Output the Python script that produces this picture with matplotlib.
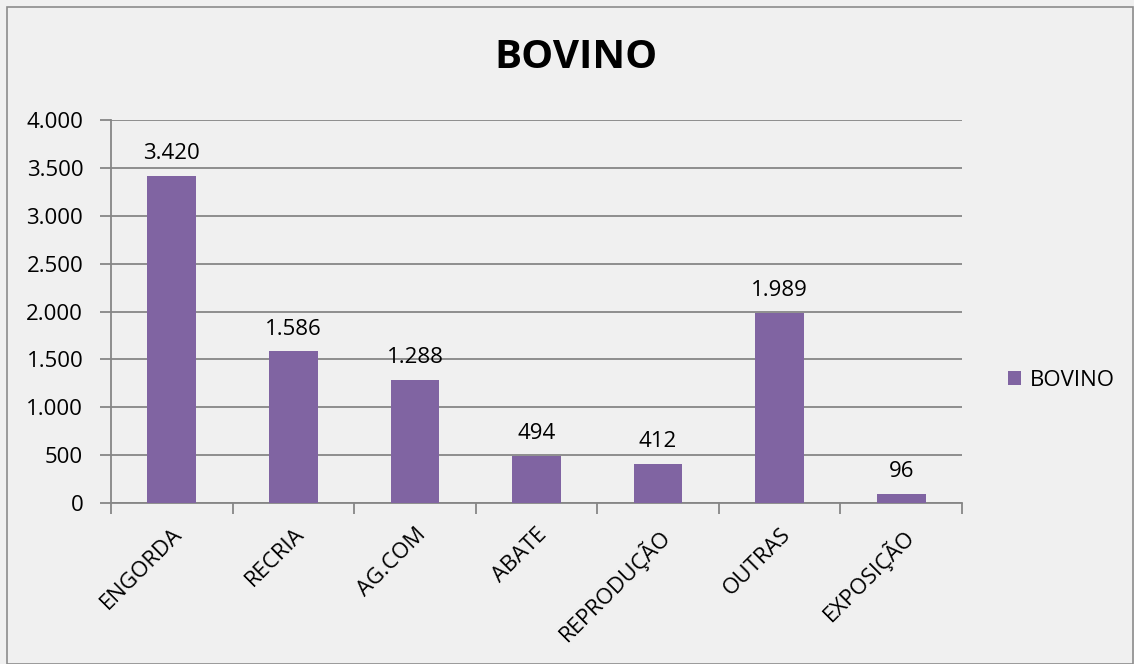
import matplotlib
matplotlib.use("Agg")
import matplotlib.pyplot as plt
from matplotlib.patches import Rectangle

categories = ["ENGORDA", "RECRIA", "AG.COM", "ABATE", "REPRODUÇÃO", "OUTRAS", "EXPOSIÇÃO"]
values = [3420, 1586, 1288, 494, 412, 1989, 96]
yticks = [0, 500, 1000, 1500, 2000, 2500, 3000, 3500, 4000]
series_name = "BOVINO"

def fmt(v):
    return f"{v:,}".replace(",", ".")

plt.rcParams['font.family'] = ['Open Sans', 'DejaVu Sans']
bg = "#f0f0f0"
bar_color = "#8064a2"
grid_color = "#868686"
fs = 16

fig = plt.figure(figsize=(11.34, 6.64), dpi=100, facecolor=bg)
fig.patches.append(Rectangle((7/1134, 0), 1 - 8/1134, 1 - 7/664, transform=fig.transFigure,
                             fill=False, edgecolor="#8c8c8c", linewidth=1.2))
ax = fig.add_axes([111/1134, 1 - 503/664, (962 - 111)/1134, (503 - 120)/664])
ax.set_facecolor(bg)

x = list(range(len(categories)))
bars = ax.bar(x, values, width=0.4, color=bar_color, zorder=3, label=series_name)
for xi, v in zip(x, values):
    ax.text(xi, v + 120, fmt(v), ha='center', va='bottom', fontsize=fs, color='black')

ax.set_xlim(-0.5, len(categories) - 0.5)
ax.set_ylim(0, 4000)
ax.set_yticks(yticks)
ax.set_yticklabels([fmt(t) for t in yticks], fontsize=fs)
ax.yaxis.grid(True, color=grid_color, linewidth=1.3, zorder=0)
ax.set_axisbelow(True)

ax.set_xticks([i - 0.5 for i in range(len(categories) + 1)], minor=False)
ax.set_xticklabels([])
ax.set_xticks(x, minor=True)
ax.set_xticklabels(categories, minor=True, rotation=45, ha='right', rotation_mode='anchor', fontsize=fs)
ax.tick_params(axis='x', which='minor', length=0, pad=15)
ax.tick_params(axis='x', which='major', length=8, width=1.3, color=grid_color, direction='out')
ax.tick_params(axis='y', length=8, width=1.3, color=grid_color, direction='out', pad=12)

for s in ['top', 'right']:
    ax.spines[s].set_visible(False)
for s in ['left', 'bottom']:
    ax.spines[s].set_color(grid_color)
    ax.spines[s].set_linewidth(1.3)

fig.text(576/1134, 1 - 58/664, "BOVINO", ha='center', va='center', fontsize=29, fontweight='bold')

leg = fig.legend(handles=[bars], labels=[series_name], loc='center left',
                 bbox_to_anchor=(988/1134, 1 - 380/664), frameon=False, fontsize=fs,
                 handlelength=0.6, handleheight=0.6, handletextpad=0.4)

fig.savefig("out.png", dpi=100, facecolor=bg)
